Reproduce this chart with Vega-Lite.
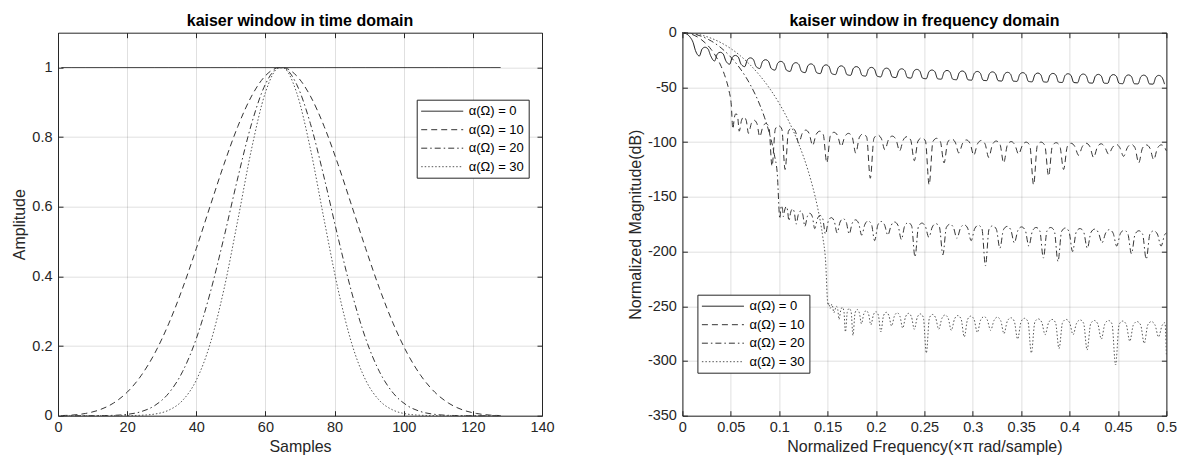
{
"$schema":"https://vega.github.io/schema/vega-lite/v6.json",
"background":"white",
"padding":{"left":11,"top":11.7,"right":0,"bottom":0},
"config":{
 "font":"Liberation Sans",
 "view":{"stroke":"#262626","strokeWidth":1},
 "axis":{"labelFont":"Liberation Sans","labelFontSize":14.5,"labelColor":"#262626","titleFont":"Liberation Sans","titleFontSize":16,"titleFontWeight":"normal","titleColor":"#262626","gridColor":"#262626","gridOpacity":0.15,"domain":false,"tickColor":"#262626","tickSize":-5,"labelOverlap":false,"labelFlush":false},
 "axisX":{"labelPadding":10,"titlePadding":4},
 "axisY":{"labelPadding":11,"titlePadding":4},
 "legend":{"orient":"none","title":null,"padding":4,"rowPadding":3.5,"strokeColor":"#262626","fillColor":"white","labelFont":"Liberation Sans","labelFontSize":13,"labelColor":"#000","symbolType":"M-3,0H3","symbolSize":196,"symbolStrokeWidth":1,"symbolOffset":14,"labelOffset":19},
 "title":{"font":"Liberation Sans","fontSize":16,"fontWeight":"bold","color":"#000","frame":"group","anchor":"middle"}
},
"bounds":"flush",
"spacing":140.4,
"resolve":{"scale":{"color":"independent","strokeDash":"independent"}},
"hconcat":[
{
 "width":484,"height":383,
 "title":{"text":"kaiser window in time domain","offset":3},
 "data":{"values":[
{"n":1,"w":1,"s":0},{"n":4,"w":1,"s":0},{"n":8,"w":1,"s":0},{"n":12,"w":1,"s":0},{"n":16,"w":1,"s":0},{"n":20,"w":1,"s":0},{"n":24,"w":1,"s":0},{"n":28,"w":1,"s":0},{"n":32,"w":1,"s":0},{"n":36,"w":1,"s":0},{"n":40,"w":1,"s":0},{"n":44,"w":1,"s":0},{"n":48,"w":1,"s":0},{"n":52,"w":1,"s":0},{"n":56,"w":1,"s":0},{"n":60,"w":1,"s":0},{"n":64,"w":1,"s":0},{"n":65,"w":1,"s":0},{"n":69,"w":1,"s":0},{"n":73,"w":1,"s":0},{"n":77,"w":1,"s":0},{"n":81,"w":1,"s":0},{"n":85,"w":1,"s":0},{"n":89,"w":1,"s":0},{"n":93,"w":1,"s":0},{"n":97,"w":1,"s":0},{"n":101,"w":1,"s":0},{"n":105,"w":1,"s":0},{"n":109,"w":1,"s":0},{"n":113,"w":1,"s":0},{"n":117,"w":1,"s":0},{"n":121,"w":1,"s":0},{"n":125,"w":1,"s":0},{"n":128,"w":1,"s":0},
{"n":1,"w":0.0004,"s":10},{"n":4,"w":0.0017,"s":10},{"n":8,"w":0.0065,"s":10},{"n":12,"w":0.0168,"s":10},{"n":16,"w":0.0359,"s":10},{"n":20,"w":0.0674,"s":10},{"n":24,"w":0.1145,"s":10},{"n":28,"w":0.1796,"s":10},{"n":32,"w":0.2637,"s":10},{"n":36,"w":0.3651,"s":10},{"n":40,"w":0.48,"s":10},{"n":44,"w":0.6017,"s":10},{"n":48,"w":0.7218,"s":10},{"n":52,"w":0.8305,"s":10},{"n":56,"w":0.9181,"s":10},{"n":60,"w":0.9764,"s":10},{"n":64,"w":0.9997,"s":10},{"n":65,"w":0.9997,"s":10},{"n":69,"w":0.9764,"s":10},{"n":73,"w":0.9181,"s":10},{"n":77,"w":0.8305,"s":10},{"n":81,"w":0.7218,"s":10},{"n":85,"w":0.6017,"s":10},{"n":89,"w":0.48,"s":10},{"n":93,"w":0.3651,"s":10},{"n":97,"w":0.2637,"s":10},{"n":101,"w":0.1796,"s":10},{"n":105,"w":0.1145,"s":10},{"n":109,"w":0.0674,"s":10},{"n":113,"w":0.0359,"s":10},{"n":117,"w":0.0168,"s":10},{"n":121,"w":0.0065,"s":10},{"n":125,"w":0.0017,"s":10},{"n":128,"w":0.0004,"s":10},
{"n":1,"w":0,"s":20},{"n":4,"w":0,"s":20},{"n":8,"w":0,"s":20},{"n":12,"w":0.0002,"s":20},{"n":16,"w":0.001,"s":20},{"n":20,"w":0.0038,"s":20},{"n":24,"w":0.0115,"s":20},{"n":28,"w":0.0292,"s":20},{"n":32,"w":0.0644,"s":20},{"n":36,"w":0.126,"s":20},{"n":40,"w":0.2213,"s":20},{"n":44,"w":0.3523,"s":20},{"n":48,"w":0.512,"s":20},{"n":52,"w":0.6829,"s":20},{"n":56,"w":0.839,"s":20},{"n":60,"w":0.9522,"s":20},{"n":64,"w":0.9994,"s":20},{"n":65,"w":0.9994,"s":20},{"n":69,"w":0.9522,"s":20},{"n":73,"w":0.839,"s":20},{"n":77,"w":0.6829,"s":20},{"n":81,"w":0.512,"s":20},{"n":85,"w":0.3523,"s":20},{"n":89,"w":0.2213,"s":20},{"n":93,"w":0.126,"s":20},{"n":97,"w":0.0644,"s":20},{"n":101,"w":0.0292,"s":20},{"n":105,"w":0.0115,"s":20},{"n":109,"w":0.0038,"s":20},{"n":113,"w":0.001,"s":20},{"n":117,"w":0.0002,"s":20},{"n":121,"w":0,"s":20},{"n":125,"w":0,"s":20},{"n":128,"w":0,"s":20},
{"n":1,"w":0,"s":30},{"n":4,"w":0,"s":30},{"n":8,"w":0,"s":30},{"n":12,"w":0,"s":30},{"n":16,"w":0,"s":30},{"n":20,"w":0.0002,"s":30},{"n":24,"w":0.0012,"s":30},{"n":28,"w":0.0047,"s":30},{"n":32,"w":0.0157,"s":30},{"n":36,"w":0.0435,"s":30},{"n":40,"w":0.102,"s":30},{"n":44,"w":0.2062,"s":30},{"n":48,"w":0.3631,"s":30},{"n":52,"w":0.5615,"s":30},{"n":56,"w":0.7668,"s":30},{"n":60,"w":0.9285,"s":30},{"n":64,"w":0.9991,"s":30},{"n":65,"w":0.9991,"s":30},{"n":69,"w":0.9285,"s":30},{"n":73,"w":0.7668,"s":30},{"n":77,"w":0.5615,"s":30},{"n":81,"w":0.3631,"s":30},{"n":85,"w":0.2062,"s":30},{"n":89,"w":0.102,"s":30},{"n":93,"w":0.0435,"s":30},{"n":97,"w":0.0157,"s":30},{"n":101,"w":0.0047,"s":30},{"n":105,"w":0.0012,"s":30},{"n":109,"w":0.0002,"s":30},{"n":113,"w":0,"s":30},{"n":117,"w":0,"s":30},{"n":121,"w":0,"s":30},{"n":125,"w":0,"s":30},{"n":128,"w":0,"s":30}
 ]},
 "layer":[
  {"mark":{"type":"line","strokeWidth":1,"interpolate":"monotone"},
   "encoding":{
    "x":{"field":"n","type":"quantitative","scale":{"domain":[0,140],"nice":false,"zero":false},"axis":{"values":[0,20,40,60,80,100,120,140],"title":"Samples","labelExpr":"datum.value + ''"}},
    "y":{"field":"w","type":"quantitative","scale":{"domain":[0,1.1],"nice":false},"axis":{"values":[0,0.2,0.4,0.6,0.8,1],"title":"Amplitude","labelExpr":"datum.value + ''"}},
    "color":{"field":"s","type":"ordinal","scale":{"domain":[0,10,20,30],"range":["#1a1a1a","#333333","#333333","#555555"]},"legend":{"legendX":358.7,"legendY":67,"labelExpr":"'α(Ω) = ' + datum.label"}},
    "strokeDash":{"field":"s","type":"ordinal","scale":{"domain":[0,10,20,30],"range":[[1,0],[6,4],[6,3,1.5,3],[1.5,2]]},"legend":{"legendX":358.7,"legendY":67,"labelExpr":"'α(Ω) = ' + datum.label"}}
   }},
  {"mark":{"type":"point","opacity":0},
   "encoding":{
    "x":{"field":"n","type":"quantitative","axis":{"orient":"top","values":[0,20,40,60,80,100,120,140],"labels":false,"title":null,"grid":false}},
    "y":{"field":"w","type":"quantitative","axis":{"orient":"right","values":[0,0.2,0.4,0.6,0.8,1],"labels":false,"title":null,"grid":false}}
   }}
 ],
 "resolve":{"axis":{"x":"independent","y":"independent"}}
},
{
 "width":484,"height":383,
 "title":{"text":"kaiser window in frequency domain","offset":-4},
 "data":{"values":[
{"f":0,"m":0,"s":0},{"f":0.004,"m":-1,"s":0},{"f":0.008,"m":-4.1,"s":0},{"f":0.011,"m":-8.8,"s":0},{"f":0.0135,"m":-16.3,"s":0},
{"f":0.0175,"m":-21.3,"s":0},{"f":0.0204,"m":-14.8,"s":0},{"f":0.0234,"m":-13.3,"s":0},{"f":0.0264,"m":-14.8,"s":0},{"f":0.0293,"m":-21.3,"s":0},
{"f":0.0332,"m":-25.9,"s":0},{"f":0.0361,"m":-19.4,"s":0},{"f":0.0391,"m":-17.9,"s":0},{"f":0.0421,"m":-19.4,"s":0},{"f":0.045,"m":-25.9,"s":0},
{"f":0.0488,"m":-28.8,"s":0},{"f":0.0517,"m":-22.3,"s":0},{"f":0.0547,"m":-20.8,"s":0},{"f":0.0577,"m":-22.3,"s":0},{"f":0.0606,"m":-28.8,"s":0},
{"f":0.0644,"m":-31,"s":0},{"f":0.0673,"m":-24.5,"s":0},{"f":0.0703,"m":-23,"s":0},{"f":0.0733,"m":-24.5,"s":0},{"f":0.0762,"m":-31,"s":0},
{"f":0.08,"m":-32.7,"s":0},{"f":0.0829,"m":-26.2,"s":0},{"f":0.0859,"m":-24.7,"s":0},{"f":0.0889,"m":-26.2,"s":0},{"f":0.0918,"m":-32.7,"s":0},
{"f":0.0957,"m":-34.2,"s":0},{"f":0.0986,"m":-27.7,"s":0},{"f":0.1016,"m":-26.2,"s":0},{"f":0.1046,"m":-27.7,"s":0},{"f":0.1075,"m":-34.2,"s":0},
{"f":0.1113,"m":-35.4,"s":0},{"f":0.1142,"m":-28.9,"s":0},{"f":0.1172,"m":-27.4,"s":0},{"f":0.1202,"m":-28.9,"s":0},{"f":0.1231,"m":-35.4,"s":0},
{"f":0.1269,"m":-36.5,"s":0},{"f":0.1298,"m":-30,"s":0},{"f":0.1328,"m":-28.5,"s":0},{"f":0.1358,"m":-30,"s":0},{"f":0.1387,"m":-36.5,"s":0},
{"f":0.1425,"m":-37.4,"s":0},{"f":0.1454,"m":-30.9,"s":0},{"f":0.1484,"m":-29.4,"s":0},{"f":0.1514,"m":-30.9,"s":0},{"f":0.1543,"m":-37.4,"s":0},
{"f":0.1582,"m":-38.3,"s":0},{"f":0.1611,"m":-31.8,"s":0},{"f":0.1641,"m":-30.3,"s":0},{"f":0.1671,"m":-31.8,"s":0},{"f":0.17,"m":-38.3,"s":0},
{"f":0.1738,"m":-39,"s":0},{"f":0.1767,"m":-32.5,"s":0},{"f":0.1797,"m":-31,"s":0},{"f":0.1827,"m":-32.5,"s":0},{"f":0.1856,"m":-39,"s":0},
{"f":0.1894,"m":-39.7,"s":0},{"f":0.1923,"m":-33.2,"s":0},{"f":0.1953,"m":-31.7,"s":0},{"f":0.1983,"m":-33.2,"s":0},{"f":0.2012,"m":-39.7,"s":0},
{"f":0.205,"m":-40.4,"s":0},{"f":0.2079,"m":-33.9,"s":0},{"f":0.2109,"m":-32.4,"s":0},{"f":0.2139,"m":-33.9,"s":0},{"f":0.2168,"m":-40.4,"s":0},
{"f":0.2207,"m":-41,"s":0},{"f":0.2236,"m":-34.5,"s":0},{"f":0.2266,"m":-33,"s":0},{"f":0.2296,"m":-34.5,"s":0},{"f":0.2325,"m":-41,"s":0},
{"f":0.2363,"m":-41.5,"s":0},{"f":0.2392,"m":-35,"s":0},{"f":0.2422,"m":-33.5,"s":0},{"f":0.2452,"m":-35,"s":0},{"f":0.2481,"m":-41.5,"s":0},
{"f":0.2519,"m":-42.1,"s":0},{"f":0.2548,"m":-35.6,"s":0},{"f":0.2578,"m":-34.1,"s":0},{"f":0.2608,"m":-35.6,"s":0},{"f":0.2637,"m":-42.1,"s":0},
{"f":0.2675,"m":-42.5,"s":0},{"f":0.2704,"m":-36,"s":0},{"f":0.2734,"m":-34.5,"s":0},{"f":0.2764,"m":-36,"s":0},{"f":0.2793,"m":-42.5,"s":0},
{"f":0.2832,"m":-43,"s":0},{"f":0.2861,"m":-36.5,"s":0},{"f":0.2891,"m":-35,"s":0},{"f":0.2921,"m":-36.5,"s":0},{"f":0.295,"m":-43,"s":0},
{"f":0.2988,"m":-43.4,"s":0},{"f":0.3017,"m":-36.9,"s":0},{"f":0.3047,"m":-35.4,"s":0},{"f":0.3077,"m":-36.9,"s":0},{"f":0.3106,"m":-43.4,"s":0},
{"f":0.3144,"m":-43.8,"s":0},{"f":0.3173,"m":-37.3,"s":0},{"f":0.3203,"m":-35.8,"s":0},{"f":0.3233,"m":-37.3,"s":0},{"f":0.3262,"m":-43.8,"s":0},
{"f":0.33,"m":-44.2,"s":0},{"f":0.3329,"m":-37.7,"s":0},{"f":0.3359,"m":-36.2,"s":0},{"f":0.3389,"m":-37.7,"s":0},{"f":0.3418,"m":-44.2,"s":0},
{"f":0.3457,"m":-44.5,"s":0},{"f":0.3486,"m":-38,"s":0},{"f":0.3516,"m":-36.5,"s":0},{"f":0.3546,"m":-38,"s":0},{"f":0.3575,"m":-44.5,"s":0},
{"f":0.3613,"m":-44.9,"s":0},{"f":0.3642,"m":-38.4,"s":0},{"f":0.3672,"m":-36.9,"s":0},{"f":0.3702,"m":-38.4,"s":0},{"f":0.3731,"m":-44.9,"s":0},
{"f":0.3769,"m":-45.2,"s":0},{"f":0.3798,"m":-38.7,"s":0},{"f":0.3828,"m":-37.2,"s":0},{"f":0.3858,"m":-38.7,"s":0},{"f":0.3887,"m":-45.2,"s":0},
{"f":0.3925,"m":-45.5,"s":0},{"f":0.3954,"m":-39,"s":0},{"f":0.3984,"m":-37.5,"s":0},{"f":0.4014,"m":-39,"s":0},{"f":0.4043,"m":-45.5,"s":0},
{"f":0.4082,"m":-45.8,"s":0},{"f":0.4111,"m":-39.3,"s":0},{"f":0.4141,"m":-37.8,"s":0},{"f":0.4171,"m":-39.3,"s":0},{"f":0.42,"m":-45.8,"s":0},
{"f":0.4238,"m":-46.1,"s":0},{"f":0.4267,"m":-39.6,"s":0},{"f":0.4297,"m":-38.1,"s":0},{"f":0.4327,"m":-39.6,"s":0},{"f":0.4356,"m":-46.1,"s":0},
{"f":0.4394,"m":-46.3,"s":0},{"f":0.4423,"m":-39.8,"s":0},{"f":0.4453,"m":-38.3,"s":0},{"f":0.4483,"m":-39.8,"s":0},{"f":0.4512,"m":-46.3,"s":0},
{"f":0.455,"m":-46.6,"s":0},{"f":0.4579,"m":-40.1,"s":0},{"f":0.4609,"m":-38.6,"s":0},{"f":0.4639,"m":-40.1,"s":0},{"f":0.4668,"m":-46.6,"s":0},
{"f":0.4707,"m":-46.8,"s":0},{"f":0.4736,"m":-40.3,"s":0},{"f":0.4766,"m":-38.8,"s":0},{"f":0.4796,"m":-40.3,"s":0},{"f":0.4825,"m":-46.8,"s":0},
{"f":0.4863,"m":-47,"s":0},{"f":0.4892,"m":-40.5,"s":0},{"f":0.4922,"m":-39,"s":0},{"f":0.4952,"m":-40.5,"s":0},{"f":0.4981,"m":-47,"s":0},
{"f":0,"m":0,"s":10},{"f":0.01,"m":-1.6,"s":10},{"f":0.02,"m":-6.6,"s":10},{"f":0.03,"m":-15.6,"s":10},{"f":0.035,"m":-22.2,"s":10},{"f":0.04,"m":-30.7,"s":10},{"f":0.045,"m":-42.5,"s":10},{"f":0.048,"m":-52.5,"s":10},{"f":0.0505,"m":-66,"s":10},{"f":0.0521,"m":-88,"s":10},
{"f":0.0538,"m":-77,"s":10},{"f":0.0554,"m":-74,"s":10},{"f":0.0571,"m":-77,"s":10},{"f":0.0587,"m":-90,"s":10},
{"f":0.0611,"m":-80,"s":10},{"f":0.0635,"m":-77,"s":10},{"f":0.0659,"m":-80,"s":10},{"f":0.0683,"m":-92,"s":10},
{"f":0.0712,"m":-83,"s":10},{"f":0.0741,"m":-80,"s":10},{"f":0.077,"m":-83,"s":10},{"f":0.0799,"m":-95,"s":10},
{"f":0.0831,"m":-86,"s":10},{"f":0.0863,"m":-83,"s":10},{"f":0.0894,"m":-86,"s":10},{"f":0.0926,"m":-122,"s":10},
{"f":0.096,"m":-88,"s":10},{"f":0.0994,"m":-85,"s":10},{"f":0.1027,"m":-88,"s":10},{"f":0.1061,"m":-125,"s":10},
{"f":0.1096,"m":-90,"s":10},{"f":0.1132,"m":-87,"s":10},{"f":0.1167,"m":-90,"s":10},{"f":0.1202,"m":-101,"s":10},
{"f":0.1238,"m":-92,"s":10},{"f":0.1274,"m":-89,"s":10},{"f":0.1309,"m":-92,"s":10},{"f":0.1345,"m":-103,"s":10},
{"f":0.1382,"m":-93,"s":10},{"f":0.1419,"m":-90,"s":10},{"f":0.1455,"m":-93,"s":10},{"f":0.1492,"m":-119,"s":10},
{"f":0.1529,"m":-94,"s":10},{"f":0.1566,"m":-91,"s":10},{"f":0.1603,"m":-94,"s":10},{"f":0.164,"m":-104,"s":10},
{"f":0.1678,"m":-95,"s":10},{"f":0.1716,"m":-92,"s":10},{"f":0.1753,"m":-95,"s":10},{"f":0.1791,"m":-110,"s":10},
{"f":0.1829,"m":-95.5,"s":10},{"f":0.1866,"m":-92.5,"s":10},{"f":0.1904,"m":-95.5,"s":10},{"f":0.1941,"m":-133,"s":10},
{"f":0.1979,"m":-96.5,"s":10},{"f":0.2017,"m":-93.5,"s":10},{"f":0.2054,"m":-96.5,"s":10},{"f":0.2092,"m":-107,"s":10},
{"f":0.213,"m":-97.5,"s":10},{"f":0.2168,"m":-94.5,"s":10},{"f":0.2206,"m":-97.5,"s":10},{"f":0.2244,"m":-108,"s":10},
{"f":0.2282,"m":-98,"s":10},{"f":0.232,"m":-95,"s":10},{"f":0.2358,"m":-98,"s":10},{"f":0.2396,"m":-117,"s":10},
{"f":0.2434,"m":-99,"s":10},{"f":0.2473,"m":-96,"s":10},{"f":0.2511,"m":-99,"s":10},{"f":0.2549,"m":-139,"s":10},
{"f":0.2588,"m":-99.5,"s":10},{"f":0.2626,"m":-96.5,"s":10},{"f":0.2665,"m":-99.5,"s":10},{"f":0.2703,"m":-119,"s":10},
{"f":0.2741,"m":-100,"s":10},{"f":0.278,"m":-97,"s":10},{"f":0.2818,"m":-100,"s":10},{"f":0.2856,"m":-110,"s":10},
{"f":0.2895,"m":-101,"s":10},{"f":0.2933,"m":-98,"s":10},{"f":0.2972,"m":-101,"s":10},{"f":0.301,"m":-112,"s":10},
{"f":0.3049,"m":-101.5,"s":10},{"f":0.3088,"m":-98.5,"s":10},{"f":0.3126,"m":-101.5,"s":10},{"f":0.3165,"m":-114,"s":10},
{"f":0.3204,"m":-102,"s":10},{"f":0.3242,"m":-99,"s":10},{"f":0.3281,"m":-102,"s":10},{"f":0.3319,"m":-119,"s":10},
{"f":0.3358,"m":-102.5,"s":10},{"f":0.3396,"m":-99.5,"s":10},{"f":0.3435,"m":-102.5,"s":10},{"f":0.3473,"m":-111,"s":10},
{"f":0.3512,"m":-103,"s":10},{"f":0.3551,"m":-100,"s":10},{"f":0.3589,"m":-103,"s":10},{"f":0.3628,"m":-139,"s":10},
{"f":0.3667,"m":-103,"s":10},{"f":0.3706,"m":-100,"s":10},{"f":0.3744,"m":-103,"s":10},{"f":0.3783,"m":-131,"s":10},
{"f":0.3822,"m":-103.5,"s":10},{"f":0.3861,"m":-100.5,"s":10},{"f":0.3899,"m":-103.5,"s":10},{"f":0.3938,"m":-125,"s":10},
{"f":0.3977,"m":-104,"s":10},{"f":0.4016,"m":-101,"s":10},{"f":0.4054,"m":-104,"s":10},{"f":0.4093,"m":-112,"s":10},
{"f":0.4132,"m":-104,"s":10},{"f":0.4171,"m":-101,"s":10},{"f":0.4209,"m":-104,"s":10},{"f":0.4248,"m":-114,"s":10},
{"f":0.4287,"m":-104.5,"s":10},{"f":0.4326,"m":-101.5,"s":10},{"f":0.4364,"m":-104.5,"s":10},{"f":0.4403,"m":-111,"s":10},
{"f":0.4442,"m":-105,"s":10},{"f":0.4481,"m":-102,"s":10},{"f":0.4519,"m":-105,"s":10},{"f":0.4558,"m":-113,"s":10},
{"f":0.4597,"m":-105,"s":10},{"f":0.4636,"m":-102,"s":10},{"f":0.4675,"m":-105,"s":10},{"f":0.4714,"m":-119,"s":10},
{"f":0.4753,"m":-105.5,"s":10},{"f":0.4792,"m":-102.5,"s":10},{"f":0.483,"m":-105.5,"s":10},{"f":0.4869,"m":-116,"s":10},
{"f":0.4908,"m":-105.5,"s":10},{"f":0.4947,"m":-102.5,"s":10},{"f":0.4986,"m":-105.5,"s":10},{"f":0.5,"m":-108,"s":10},
{"f":0,"m":0,"s":20},{"f":0.01,"m":-0.8,"s":20},{"f":0.02,"m":-3.4,"s":20},{"f":0.03,"m":-7.7,"s":20},{"f":0.04,"m":-13.9,"s":20},{"f":0.05,"m":-22.3,"s":20},{"f":0.06,"m":-33.2,"s":20},{"f":0.07,"m":-47.3,"s":20},{"f":0.08,"m":-66,"s":20},{"f":0.085,"m":-77.8,"s":20},{"f":0.09,"m":-92.3,"s":20},{"f":0.095,"m":-111.6,"s":20},{"f":0.098,"m":-128.6,"s":20},{"f":0.1007,"m":-170,"s":20},
{"f":0.1016,"m":-161,"s":20},{"f":0.1025,"m":-158,"s":20},{"f":0.1034,"m":-161,"s":20},{"f":0.1043,"m":-168,"s":20},
{"f":0.1057,"m":-162,"s":20},{"f":0.1072,"m":-159,"s":20},{"f":0.1086,"m":-162,"s":20},{"f":0.11,"m":-172,"s":20},
{"f":0.1119,"m":-164,"s":20},{"f":0.1138,"m":-161,"s":20},{"f":0.1156,"m":-164,"s":20},{"f":0.1175,"m":-175,"s":20},
{"f":0.1198,"m":-166,"s":20},{"f":0.122,"m":-163,"s":20},{"f":0.1243,"m":-166,"s":20},{"f":0.1265,"m":-177,"s":20},
{"f":0.1291,"m":-168,"s":20},{"f":0.1316,"m":-165,"s":20},{"f":0.1342,"m":-168,"s":20},{"f":0.1367,"m":-179,"s":20},
{"f":0.1395,"m":-170,"s":20},{"f":0.1423,"m":-167,"s":20},{"f":0.145,"m":-170,"s":20},{"f":0.1478,"m":-184,"s":20},
{"f":0.1508,"m":-172,"s":20},{"f":0.1538,"m":-169,"s":20},{"f":0.1568,"m":-172,"s":20},{"f":0.1598,"m":-183,"s":20},
{"f":0.1629,"m":-173,"s":20},{"f":0.1661,"m":-170,"s":20},{"f":0.1692,"m":-173,"s":20},{"f":0.1723,"m":-184,"s":20},
{"f":0.1755,"m":-174,"s":20},{"f":0.1788,"m":-171,"s":20},{"f":0.182,"m":-174,"s":20},{"f":0.1852,"m":-185,"s":20},
{"f":0.1886,"m":-175,"s":20},{"f":0.1919,"m":-172,"s":20},{"f":0.1953,"m":-175,"s":20},{"f":0.1986,"m":-190,"s":20},
{"f":0.202,"m":-175.5,"s":20},{"f":0.2054,"m":-172.5,"s":20},{"f":0.2088,"m":-175.5,"s":20},{"f":0.2122,"m":-185,"s":20},
{"f":0.2157,"m":-176,"s":20},{"f":0.2192,"m":-173,"s":20},{"f":0.2227,"m":-176,"s":20},{"f":0.2262,"m":-189,"s":20},
{"f":0.2297,"m":-176.5,"s":20},{"f":0.2333,"m":-173.5,"s":20},{"f":0.2368,"m":-176.5,"s":20},{"f":0.2403,"m":-205,"s":20},
{"f":0.2439,"m":-177,"s":20},{"f":0.2475,"m":-174,"s":20},{"f":0.251,"m":-177,"s":20},{"f":0.2546,"m":-187,"s":20},
{"f":0.2582,"m":-177.5,"s":20},{"f":0.2619,"m":-174.5,"s":20},{"f":0.2655,"m":-177.5,"s":20},{"f":0.2691,"m":-203,"s":20},
{"f":0.2727,"m":-178,"s":20},{"f":0.2764,"m":-175,"s":20},{"f":0.28,"m":-178,"s":20},{"f":0.2836,"m":-188,"s":20},
{"f":0.2873,"m":-178.5,"s":20},{"f":0.291,"m":-175.5,"s":20},{"f":0.2946,"m":-178.5,"s":20},{"f":0.2983,"m":-190,"s":20},
{"f":0.302,"m":-179,"s":20},{"f":0.3057,"m":-176,"s":20},{"f":0.3094,"m":-179,"s":20},{"f":0.3131,"m":-213,"s":20},
{"f":0.3168,"m":-179.5,"s":20},{"f":0.3206,"m":-176.5,"s":20},{"f":0.3243,"m":-179.5,"s":20},{"f":0.328,"m":-197,"s":20},
{"f":0.3317,"m":-180,"s":20},{"f":0.3355,"m":-177,"s":20},{"f":0.3392,"m":-180,"s":20},{"f":0.3429,"m":-192,"s":20},
{"f":0.3467,"m":-180.5,"s":20},{"f":0.3504,"m":-177.5,"s":20},{"f":0.3542,"m":-180.5,"s":20},{"f":0.3579,"m":-195,"s":20},
{"f":0.3617,"m":-181,"s":20},{"f":0.3654,"m":-178,"s":20},{"f":0.3692,"m":-181,"s":20},{"f":0.3729,"m":-206,"s":20},
{"f":0.3767,"m":-181,"s":20},{"f":0.3805,"m":-178,"s":20},{"f":0.3842,"m":-181,"s":20},{"f":0.388,"m":-209,"s":20},
{"f":0.3918,"m":-181.5,"s":20},{"f":0.3956,"m":-178.5,"s":20},{"f":0.3993,"m":-181.5,"s":20},{"f":0.4031,"m":-200,"s":20},
{"f":0.4069,"m":-182,"s":20},{"f":0.4107,"m":-179,"s":20},{"f":0.4145,"m":-182,"s":20},{"f":0.4183,"m":-197,"s":20},
{"f":0.4221,"m":-182.5,"s":20},{"f":0.4259,"m":-179.5,"s":20},{"f":0.4297,"m":-182.5,"s":20},{"f":0.4335,"m":-192,"s":20},
{"f":0.4373,"m":-183,"s":20},{"f":0.4411,"m":-180,"s":20},{"f":0.4449,"m":-183,"s":20},{"f":0.4487,"m":-195,"s":20},
{"f":0.4525,"m":-183.5,"s":20},{"f":0.4563,"m":-180.5,"s":20},{"f":0.4601,"m":-183.5,"s":20},{"f":0.4639,"m":-202,"s":20},
{"f":0.4677,"m":-184,"s":20},{"f":0.4716,"m":-181,"s":20},{"f":0.4754,"m":-184,"s":20},{"f":0.4792,"m":-207,"s":20},
{"f":0.483,"m":-184,"s":20},{"f":0.4869,"m":-181,"s":20},{"f":0.4907,"m":-184,"s":20},{"f":0.4945,"m":-195,"s":20},
{"f":0.4983,"m":-184.5,"s":20},{"f":0.5,"m":-183,"s":20},
{"f":0,"m":0,"s":30},{"f":0.02,"m":-2.3,"s":30},{"f":0.04,"m":-9.2,"s":30},{"f":0.06,"m":-21.2,"s":30},{"f":0.07,"m":-29.4,"s":30},{"f":0.08,"m":-39.2,"s":30},{"f":0.09,"m":-50.8,"s":30},{"f":0.1,"m":-64.6,"s":30},{"f":0.11,"m":-81.1,"s":30},{"f":0.12,"m":-101.2,"s":30},{"f":0.13,"m":-126.5,"s":30},{"f":0.135,"m":-142.2,"s":30},{"f":0.14,"m":-161.2,"s":30},{"f":0.145,"m":-186.5,"s":30},{"f":0.148,"m":-209.6,"s":30},{"f":0.1501,"m":-247,"s":30},
{"f":0.1507,"m":-249,"s":30},{"f":0.1513,"m":-247,"s":30},{"f":0.1518,"m":-249,"s":30},{"f":0.1524,"m":-252,"s":30},
{"f":0.1534,"m":-251,"s":30},{"f":0.1544,"m":-248,"s":30},{"f":0.1554,"m":-251,"s":30},{"f":0.1564,"m":-256,"s":30},
{"f":0.1578,"m":-253,"s":30},{"f":0.1591,"m":-250,"s":30},{"f":0.1605,"m":-253,"s":30},{"f":0.1618,"m":-262,"s":30},
{"f":0.1635,"m":-254,"s":30},{"f":0.1651,"m":-251,"s":30},{"f":0.1668,"m":-254,"s":30},{"f":0.1684,"m":-273.5,"s":30},
{"f":0.1704,"m":-255,"s":30},{"f":0.1723,"m":-252,"s":30},{"f":0.1743,"m":-255,"s":30},{"f":0.1762,"m":-276.6,"s":30},
{"f":0.1784,"m":-256,"s":30},{"f":0.1806,"m":-253,"s":30},{"f":0.1828,"m":-256,"s":30},{"f":0.185,"m":-266,"s":30},
{"f":0.1874,"m":-257,"s":30},{"f":0.1899,"m":-254,"s":30},{"f":0.1923,"m":-257,"s":30},{"f":0.1947,"m":-267,"s":30},
{"f":0.1973,"m":-258,"s":30},{"f":0.1999,"m":-255,"s":30},{"f":0.2024,"m":-258,"s":30},{"f":0.205,"m":-273.5,"s":30},
{"f":0.2078,"m":-258.5,"s":30},{"f":0.2106,"m":-255.5,"s":30},{"f":0.2133,"m":-258.5,"s":30},{"f":0.2161,"m":-268,"s":30},
{"f":0.219,"m":-259,"s":30},{"f":0.2219,"m":-256,"s":30},{"f":0.2247,"m":-259,"s":30},{"f":0.2276,"m":-270,"s":30},
{"f":0.2306,"m":-259.5,"s":30},{"f":0.2336,"m":-256.5,"s":30},{"f":0.2366,"m":-259.5,"s":30},{"f":0.2396,"m":-271,"s":30},
{"f":0.2427,"m":-260,"s":30},{"f":0.2458,"m":-257,"s":30},{"f":0.2489,"m":-260,"s":30},{"f":0.252,"m":-292.7,"s":30},
{"f":0.2552,"m":-260.5,"s":30},{"f":0.2584,"m":-257.5,"s":30},{"f":0.2616,"m":-260.5,"s":30},{"f":0.2648,"m":-271,"s":30},
{"f":0.2681,"m":-261,"s":30},{"f":0.2713,"m":-258,"s":30},{"f":0.2746,"m":-261,"s":30},{"f":0.2778,"m":-272,"s":30},
{"f":0.2812,"m":-261.5,"s":30},{"f":0.2845,"m":-258.5,"s":30},{"f":0.2879,"m":-261.5,"s":30},{"f":0.2912,"m":-278,"s":30},
{"f":0.2946,"m":-262,"s":30},{"f":0.298,"m":-259,"s":30},{"f":0.3013,"m":-262,"s":30},{"f":0.3047,"m":-274,"s":30},
{"f":0.3081,"m":-262.5,"s":30},{"f":0.3116,"m":-259.5,"s":30},{"f":0.315,"m":-262.5,"s":30},{"f":0.3184,"m":-272,"s":30},
{"f":0.3219,"m":-263,"s":30},{"f":0.3253,"m":-260,"s":30},{"f":0.3288,"m":-263,"s":30},{"f":0.3322,"m":-275,"s":30},
{"f":0.3357,"m":-263.5,"s":30},{"f":0.3393,"m":-260.5,"s":30},{"f":0.3428,"m":-263.5,"s":30},{"f":0.3463,"m":-280,"s":30},
{"f":0.3499,"m":-264,"s":30},{"f":0.3534,"m":-261,"s":30},{"f":0.357,"m":-264,"s":30},{"f":0.3605,"m":-292.7,"s":30},
{"f":0.3641,"m":-264.5,"s":30},{"f":0.3676,"m":-261.5,"s":30},{"f":0.3712,"m":-264.5,"s":30},{"f":0.3747,"m":-276,"s":30},
{"f":0.3783,"m":-265,"s":30},{"f":0.3819,"m":-262,"s":30},{"f":0.3855,"m":-265,"s":30},{"f":0.3891,"m":-288.7,"s":30},
{"f":0.3927,"m":-265,"s":30},{"f":0.3964,"m":-262,"s":30},{"f":0.4,"m":-265,"s":30},{"f":0.4036,"m":-276,"s":30},
{"f":0.4072,"m":-265.5,"s":30},{"f":0.4109,"m":-262.5,"s":30},{"f":0.4145,"m":-265.5,"s":30},{"f":0.4181,"m":-290,"s":30},
{"f":0.4218,"m":-266,"s":30},{"f":0.4255,"m":-263,"s":30},{"f":0.4291,"m":-266,"s":30},{"f":0.4328,"m":-280,"s":30},
{"f":0.4365,"m":-266,"s":30},{"f":0.4402,"m":-263,"s":30},{"f":0.4438,"m":-266,"s":30},{"f":0.4475,"m":-303.6,"s":30},
{"f":0.4512,"m":-266.5,"s":30},{"f":0.4549,"m":-263.5,"s":30},{"f":0.4585,"m":-266.5,"s":30},{"f":0.4622,"m":-282,"s":30},
{"f":0.4659,"m":-267,"s":30},{"f":0.4697,"m":-264,"s":30},{"f":0.4734,"m":-267,"s":30},{"f":0.4771,"m":-284,"s":30},
{"f":0.4808,"m":-267,"s":30},{"f":0.4845,"m":-264,"s":30},{"f":0.4882,"m":-267,"s":30},{"f":0.4919,"m":-278,"s":30},
{"f":0.4956,"m":-267.5,"s":30},{"f":0.4985,"m":-265,"s":30},{"f":0.5,"m":-294,"s":30}
 ]},
 "layer":[
  {"mark":{"type":"line","strokeWidth":1,"interpolate":"monotone"},
   "encoding":{
    "x":{"field":"f","type":"quantitative","scale":{"domain":[0,0.5],"nice":false},"axis":{"values":[0,0.05,0.1,0.15,0.2,0.25,0.3,0.35,0.4,0.45,0.5],"title":"Normalized Frequency(×π rad/sample)","labelExpr":"datum.value + ''"}},
    "y":{"field":"m","type":"quantitative","scale":{"domain":[-350,0],"nice":false,"zero":false},"axis":{"values":[-350,-300,-250,-200,-150,-100,-50,0],"title":"Normalized Magnitude(dB)","labelExpr":"datum.value + ''"}},
    "color":{"field":"s","type":"ordinal","scale":{"domain":[0,10,20,30],"range":["#1a1a1a","#333333","#333333","#555555"]},"legend":{"legendX":15,"legendY":262,"labelExpr":"'α(Ω) = ' + datum.label"}},
    "strokeDash":{"field":"s","type":"ordinal","scale":{"domain":[0,10,20,30],"range":[[1,0],[6,4],[6,3,1.5,3],[1.5,2]]},"legend":{"legendX":15,"legendY":262,"labelExpr":"'α(Ω) = ' + datum.label"}}
   }},
  {"mark":{"type":"point","opacity":0},
   "encoding":{
    "x":{"field":"f","type":"quantitative","axis":{"orient":"top","values":[0,0.05,0.1,0.15,0.2,0.25,0.3,0.35,0.4,0.45,0.5],"labels":false,"title":null,"grid":false}},
    "y":{"field":"m","type":"quantitative","axis":{"orient":"right","values":[-350,-300,-250,-200,-150,-100,-50,0],"labels":false,"title":null,"grid":false}}
   }}
 ],
 "resolve":{"axis":{"x":"independent","y":"independent"}}
}
]
}
